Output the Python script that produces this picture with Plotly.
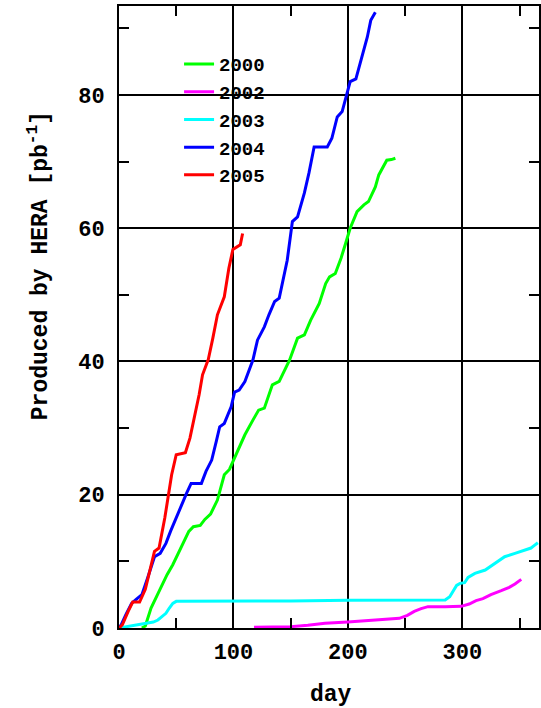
import plotly.graph_objects as go

# ---- data (day, integrated luminosity in pb^-1) ----
day_2000 = [20, 23, 28, 33, 37, 42, 47, 52, 57, 61, 65, 71, 75, 80, 86, 89, 92, 96.5, 102, 106, 110,
            117, 122, 127, 134, 140, 145, 149, 156, 162, 167.5, 175, 180.6, 184, 189, 194, 198, 202,
            208, 214, 218, 224, 227, 234, 238, 241.5]
lumi_2000 = [0, 0.3, 3, 4.8, 6.2, 8, 9.5, 11.3, 13.2, 14.5, 15.2, 15.4, 16.3, 17.1, 19.2, 21, 23, 23.8,
             26, 27.5, 29, 31.2, 32.7, 33, 36.5, 37, 38.8, 40.2, 43.5, 44, 46.2, 48.7, 51.7, 52.7, 53.2,
             55.5, 57.7, 60, 62.5, 63.5, 64, 66.2, 68, 70.2, 70.3, 70.5]

day_2002 = [118, 150, 165, 180, 200, 227, 245, 252, 258, 264, 270, 285, 299, 306, 312, 318, 325, 334,
            341, 346, 349, 351.5]
lumi_2002 = [0.1, 0.2, 0.4, 0.7, 0.9, 1.2, 1.45, 1.9, 2.5, 2.9, 3.2, 3.2, 3.25, 3.6, 4.1, 4.4, 5.0, 5.6,
             6.1, 6.6, 7.0, 7.3]

day_2003 = [0, 14, 25, 30, 34, 38, 41, 44, 47, 50, 100, 150, 200, 250, 285, 289, 292, 295, 298, 302,
            305, 311, 320, 328, 337, 346, 354, 360, 363, 366]
lumi_2003 = [0, 0.4, 0.7, 0.9, 1.2, 1.7, 2.2, 3.0, 3.7, 4.0, 4.0, 4.05, 4.15, 4.2, 4.2, 4.7, 5.6, 6.4,
             6.7, 6.8, 7.6, 8.2, 8.7, 9.7, 10.7, 11.2, 11.7, 12.0, 12.4, 12.8]

day_2004 = [0, 2, 6, 11, 15, 20, 25, 31, 36, 41, 45, 49, 54, 59, 63, 72, 76, 81, 85, 88, 92, 98, 101,
            105, 110, 113, 117, 121, 127, 131, 136, 140, 144, 147, 151.5, 156, 162, 166, 170.5, 182,
            186, 190.7, 195, 199.5, 202, 207, 212.5, 217, 220, 224]
lumi_2004 = [0, 0.5, 2, 3.7, 4.3, 5, 7.5, 10.7, 11.2, 12.7, 14.5, 16.2, 18.2, 20.2, 21.7, 21.7, 23.5,
             25.2, 28, 30.2, 30.7, 33.2, 35.4, 35.7, 37, 38.5, 40.2, 43.2, 45.2, 47, 49, 49.5, 53, 55.2,
             61, 61.7, 65.3, 68.3, 72.2, 72.2, 73.5, 76.7, 77.5, 80.2, 82, 82.4, 85.7, 88.7, 91.2, 92.4]

day_2005 = [0, 3, 8, 12, 18, 23, 31, 35, 40, 43, 46, 50, 58, 62, 66, 70, 73, 78, 82, 86, 92, 96, 99.5,
            103, 106, 108]
lumi_2005 = [0, 0.5, 2.5, 3.9, 3.9, 5.8, 11.5, 12, 16.5, 20, 23, 26, 26.3, 28.5, 31.5, 35, 38, 40.3,
             43.5, 47, 49.7, 54, 56.8, 57.2, 57.5, 59.2]

series = [
    ("2000", day_2000, lumi_2000, "#00ff00"),
    ("2002", day_2002, lumi_2002, "#ff00ff"),
    ("2003", day_2003, lumi_2003, "#00ffff"),
    ("2004", day_2004, lumi_2004, "#0000ff"),
    ("2005", day_2005, lumi_2005, "#ff0000"),
]

x_ticks = [0, 100, 200, 300]
y_ticks = [0, 20, 40, 60, 80]

FONT = "Liberation Mono"

fig = go.Figure()
for name, xs, ys, col in series:
    fig.add_trace(go.Scatter(x=xs, y=ys, mode="lines", name=name,
                             line=dict(color=col, width=3)))

axis_common = dict(
    showline=True, linecolor="black", linewidth=2, mirror="ticks",
    showgrid=True, gridcolor="black", gridwidth=2,
    zeroline=False, ticks="",
    tickfont=dict(family=FONT, size=22, color="black", weight="bold"),
)

fig.update_xaxes(range=[0, 367], tickvals=x_ticks, ticktext=[str(v) for v in x_ticks],
                 minor=dict(tickvals=[50, 150, 250, 350], ticks="inside", ticklen=10,
                            tickwidth=2, tickcolor="black", showgrid=False),
                 ticklabelstandoff=3,
                 **axis_common)
fig.update_yaxes(range=[0, 93.35], tickvals=y_ticks, ticktext=[str(v) for v in y_ticks],
                 minor=dict(tickvals=[10, 30, 50, 70, 90], ticks="inside", ticklen=10,
                            tickwidth=2, tickcolor="black", showgrid=False),
                 ticklabelstandoff=8,
                 **axis_common)

fig.add_annotation(text="day", xref="paper", yref="paper", x=0.505, y=-0.108,
                   showarrow=False, xanchor="center", yanchor="middle",
                   font=dict(family=FONT, size=23, color="black", weight="bold"))
fig.add_annotation(text="Produced by HERA [pb<sup>-1</sup>]", xref="paper", yref="paper",
                   x=-0.19, y=0.582, textangle=-90, showarrow=False,
                   xanchor="center", yanchor="middle",
                   font=dict(family=FONT, size=23, color="black", weight="bold"))

fig.update_layout(
    width=541, height=708,
    margin=dict(l=119, r=0, t=6, b=80),
    plot_bgcolor="white", paper_bgcolor="white",
    showlegend=True,
    legend=dict(x=0.143, y=0.937, xanchor="left", yanchor="top",
                bgcolor="rgba(0,0,0,0)", borderwidth=0,
                font=dict(family=FONT, size=19, color="black", weight="bold"),
                itemwidth=30),
)

fig.write_html("out.html")
